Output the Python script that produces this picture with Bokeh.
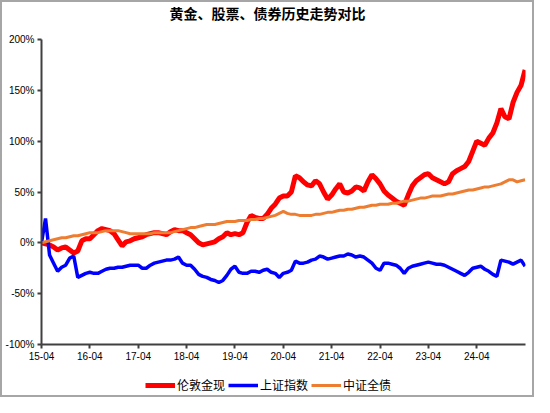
from bokeh.plotting import figure
from bokeh.layouts import column
from bokeh.models import Range1d, FixedTicker, PrintfTickFormatter, Legend, LegendItem, Label, ColumnDataSource
from bokeh.embed import file_html
from bokeh.resources import INLINE

title_text = "黄金、股票、债券历史走势对比"
series_names = ["伦敦金现", "上证指数", "中证全债"]
series_colors = ["#FF0000", "#0000FF", "#ED7D31"]
tick_labels = ["15-04", "16-04", "17-04", "18-04", "19-04", "20-04", "21-04", "22-04", "23-04", "24-04"]
y_ticks = [-100, -50, 0, 50, 100, 150, 200]

# monthly cumulative returns (%) from 2015-04 to 2025-04
gold = [0, -1, -2, -4, -7, -5, -4, -7, -10, -8,
        2, 4, 4, 8, 12, 14, 13, 12, 9, 3,
        -3, 1, 2, 4, 5, 6, 8, 9, 10, 10,
        9, 8, 11, 13, 12, 12, 10, 8, 4, 0,
        -2, -1, 0, 1, 4, 6, 10, 8, 9, 8,
        10, 20, 27, 25, 24, 24, 28, 34, 38, 44,
        46, 46, 50, 66, 64, 60, 57, 56, 61, 58,
        50, 43, 47, 53, 58, 50, 49, 51, 55, 54,
        51, 60, 67, 63, 58, 51, 47, 44, 41, 39,
        37, 47, 56, 61, 64, 67, 68, 64, 62, 60,
        58, 60, 68, 71, 73, 75, 80, 90, 100, 98,
        96, 103, 108, 118, 132, 124, 122, 138, 148, 155,
        170]
sse = [0, 24, -12, -20, -28, -24, -22, -15, -13, -34,
       -32, -30, -29, -30, -30, -28, -26, -25, -25, -24,
       -24, -23, -22, -22, -22, -25, -25, -22, -20, -19,
       -18, -17, -17, -16, -14, -20, -22, -22, -26, -31,
       -33, -34, -36, -37, -39, -37, -32, -26, -23, -29,
       -30, -30, -28, -28, -29, -27, -26, -29, -30, -34,
       -30, -29, -27, -18, -20, -20, -19, -17, -16, -13,
       -14, -16, -15, -14, -13, -13, -11, -12, -14, -13,
       -14, -17, -20, -25, -27, -20, -20, -21, -22, -25,
       -30, -25, -23, -22, -21, -20, -19, -20, -21, -21,
       -22, -24, -26, -28, -30, -32, -29, -25, -24, -23,
       -26, -28, -31, -33, -17, -18, -19, -21, -19, -17,
       -23]
bond = [0, 1, 2, 3, 4, 5, 5, 6, 7, 7,
        8, 9, 10, 10, 10, 11, 12, 12, 12, 12,
        11, 10, 9, 9, 9, 9, 9, 9, 10, 10,
        10, 10, 10, 11, 12, 13, 14, 15, 15, 16,
        17, 18, 18, 18, 19, 20, 21, 21, 21, 22,
        22, 22, 23, 23, 24, 24, 25, 26, 27, 29,
        31, 29, 28, 28, 27, 27, 27, 27, 28, 28,
        29, 30, 30, 31, 32, 32, 33, 33, 34, 35,
        35, 36, 37, 37, 38, 38, 38, 39, 39, 40,
        41, 41, 42, 43, 44, 44, 45, 46, 46, 46,
        47, 48, 48, 49, 50, 51, 52, 52, 53, 54,
        55, 55, 56, 57, 58, 60, 62, 62, 60, 61,
        62]

months = list(range(len(gold)))
src = ColumnDataSource(dict(m=months, gold=gold, sse=sse, bond=bond))

W = 530


def blank_fig(h):
    f = figure(width=W, height=h, output_backend="svg", toolbar_location=None,
               x_axis_location=None, y_axis_location=None,
               x_range=Range1d(0, 1), y_range=Range1d(0, 1), min_border=0)
    f.outline_line_color = None
    f.grid.grid_line_color = None
    f.background_fill_color = "white"
    f.border_fill_color = "white"
    return f


# title strip
tf = blank_fig(31)
tf.add_layout(Label(x=226, y=21, x_units="screen", y_units="screen", text=title_text,
                    text_align="center", text_baseline="middle", text_font="Noto Sans CJK SC",
                    text_font_style="bold", text_font_size="14px", text_color="black"))

# main chart
p = figure(width=W, height=333, output_backend="svg", toolbar_location=None,
           x_range=Range1d(0, 120.1), y_range=Range1d(-100, 200),
           min_border_left=38, min_border_right=7, min_border_top=6, min_border_bottom=22)
p.outline_line_color = None
p.grid.grid_line_color = None
p.background_fill_color = "white"
p.border_fill_color = "white"

widths = [5, 3.5, 3]
p.line("m", "gold", source=src, line_color=series_colors[0], line_width=widths[0])
p.line("m", "sse", source=src, line_color=series_colors[1], line_width=widths[1])
p.line("m", "bond", source=src, line_color=series_colors[2], line_width=widths[2])

for ax in (p.xaxis[0], p.yaxis[0]):
    ax.axis_line_color = "#404040"
    ax.axis_line_width = 2
    ax.major_tick_line_color = "#404040"
    ax.major_tick_line_width = 2
    ax.major_tick_in = 0
    ax.major_tick_out = 4
    ax.minor_tick_line_color = None
    ax.major_label_text_font = "Liberation Sans"
    ax.major_label_text_font_size = "10px"
    ax.major_label_text_color = "black"
    ax.major_label_standoff = 3

p.xaxis.ticker = FixedTicker(ticks=[12 * i for i in range(len(tick_labels))])
p.xaxis.major_label_overrides = {12 * i: lab for i, lab in enumerate(tick_labels)}
p.yaxis.ticker = FixedTicker(ticks=y_ticks)
p.yaxis.formatter = PrintfTickFormatter(format="%d%%")

# legend strip
lf = blank_fig(29)
items = []
for name, col, w in zip(series_names, series_colors, widths):
    r = lf.line(x=[float("nan")], y=[float("nan")], line_color=col, line_width=w)
    items.append(LegendItem(label=name, renderers=[r]))
legend = Legend(items=items, orientation="horizontal", location=(104, 2),
                background_fill_alpha=0, border_line_alpha=0, padding=0, margin=0,
                spacing=3, glyph_width=30, glyph_height=14, label_height=14,
                label_standoff=2, label_text_font="Noto Sans CJK SC", label_text_font_size="12px",
                label_text_color="black")
lf.add_layout(legend)

layout = column(tf, p, lf, spacing=0,
                styles={"border": "2px solid #a6a6a6"})

open("out.html", "w").write(file_html(layout, INLINE))
